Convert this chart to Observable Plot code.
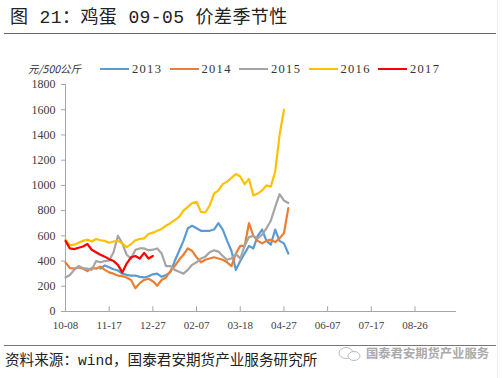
<!DOCTYPE html>
<html><head><meta charset="utf-8">
<script src="https://cdn.jsdelivr.net/npm/d3@7"></script>
<script src="https://cdn.jsdelivr.net/npm/@observablehq/plot@0.6"></script>
<style>
html,body{margin:0;padding:0;background:#fff;}
#wrap{position:relative;width:502px;height:378px;overflow:hidden;background:#fff;}
.abs{position:absolute;white-space:nowrap;}
#title{left:10px;top:8px;font-family:"Liberation Mono","Noto Sans CJK SC";font-size:18px;line-height:20px;letter-spacing:0.4px;color:#222;}
#unit{left:28px;top:62px;font-family:"Noto Sans CJK SC";font-size:10.5px;line-height:13px;color:#333;font-style:italic;}
.leg{top:62px;height:14px;display:flex;align-items:center;font-family:"Liberation Serif";font-size:12.5px;letter-spacing:1.3px;color:#333;}
.leg span.sw{display:inline-block;width:29px;height:2.5px;margin-right:3px;}
#foot{left:5px;top:352px;font-family:"Liberation Mono","Noto Sans CJK SC";font-size:14.6px;line-height:18px;color:#222;}
#wm{left:366px;top:346px;font-family:"Noto Sans CJK SC";font-size:12.3px;line-height:15px;color:#aaa;font-weight:bold;}
#chart{left:0;top:40px;}
#chart svg text{font-family:"Liberation Serif";}
</style></head>
<body><div id="wrap">
<div id="title" class="abs">图 21：鸡蛋 09-05 价差季节性</div>
<div class="abs" style="left:4px;top:33px;width:492px;height:1px;background:#666;"></div>
<div class="abs" style="left:497px;top:0;width:1px;height:378px;background:#eee;"></div>
<div id="unit" class="abs">元/500公斤</div>
<div id="legend"></div>
<div id="chart" class="abs"></div>
<div class="abs" style="left:4px;top:345px;width:492px;height:1px;background:#777;"></div>
<div id="foot" class="abs">资料来源：wind，国泰君安期货产业服务研究所</div>
<svg class="abs" style="left:337px;top:346px" width="26" height="16"><ellipse cx="9" cy="7" rx="7" ry="5.5" fill="none" stroke="#bbb" stroke-width="1"/><ellipse cx="17" cy="10" rx="6" ry="4.5" fill="#fff" stroke="#bbb" stroke-width="1"/></svg>
<div id="wm" class="abs">国泰君安期货产业服务</div>
</div>
<script>
// x-axis tick labels and their positions (trading-day index)
const tickLabels = ["10-08","11-17","12-27","02-07","03-18","04-27","06-07","07-17","08-26"];
const tickPos = [0,40,80,120,160,200,240,280,320];
const yTicks = [0,200,400,600,800,1000,1200,1400,1600,1800];

// series names and colours
const seriesNames = ["2013","2014","2015","2016","2017"];
const seriesColors = ["#5B9BD5","#ED7D31","#A5A5A5","#FFC000","#FF0000"];
const seriesStart = [32,0,0,0,0];
const step = 4;

// values (元/500公斤), every 4 trading days
const v2013 = [340,365,350,335,325,300,290,285,285,275,270,280,295,300,275,290,310,400,480,560,660,680,660,640,640,640,650,700,650,560,480,330,400,460,520,500,600,650,560,530,650,560,540,460];
const v2014 = [390,345,340,350,340,320,345,340,355,330,310,300,285,280,270,250,185,225,250,260,240,205,250,270,320,360,410,450,500,480,430,390,410,420,430,420,410,390,360,460,520,520,700,600,560,540,560,570,550,580,620,820];
const v2015 = [270,290,330,360,345,340,330,400,390,400,405,470,600,540,450,420,490,500,500,485,490,500,460,360,360,330,315,300,330,370,390,420,435,470,485,475,440,410,420,455,420,520,590,600,580,610,660,720,830,930,880,860];
const v2016 = [570,525,530,545,560,570,555,575,565,560,545,555,560,540,510,535,565,575,580,615,625,640,655,680,700,725,750,800,830,860,870,790,785,840,935,960,1010,1030,1060,1090,1070,1010,1050,920,935,960,1000,990,1110,1400,1600];
const v2017 = [560,500,495,505,515,535,490,470,450,435,415,400,370,310,380,430,440,420,465,420,440];
const seriesValues = [v2013,v2014,v2015,v2016,v2017];

const data = seriesValues.map((vals, s) => vals.map((v, i) => ({x: seriesStart[s] + i*step, y: v, name: seriesNames[s]})));

// legend
const legend = document.getElementById("legend");
seriesNames.forEach((n, i) => {
  const d = document.createElement("div");
  d.className = "abs leg";
  d.style.left = (100 + i*69.5) + "px";
  d.innerHTML = `<span class="sw" style="background:${seriesColors[i]}"></span>${n}`;
  legend.appendChild(d);
});

const axisColor = "#A6A6A6";
const chart = Plot.plot({
  width: 502, height: 300,
  marginLeft: 65, marginRight: 46, marginTop: 44, marginBottom: 29,
  x: {domain: [0, 358]},
  y: {domain: [0, 1800]},
  style: {fontFamily: "Liberation Serif", background: "transparent", overflow: "visible"},
  marks: [
    Plot.axisY({ticks: yTicks, tickSize: 4, tickPadding: 6, label: null, stroke: axisColor, fill: "#404040",
      fontSize: 12, tickFormat: d => String(d)}),
    Plot.axisX({ticks: tickPos, tickSize: 0, tickPadding: 10, label: null, fill: "#404040",
      tickFormat: (d) => tickLabels[tickPos.indexOf(d)], fontFamily: "Liberation Mono", fontSize: 11}),
    Plot.ruleX(tickPos, {y1: 0, y2: 38, stroke: axisColor}),
    Plot.ruleX([0], {y1: 0, y2: 1800, stroke: axisColor}),
    Plot.ruleY([0], {x1: 0, x2: 358, stroke: axisColor}),
    ...data.map((d, s) => Plot.line(d, {x: "x", y: "y", stroke: seriesColors[s], strokeWidth: 2.2, strokeLinejoin: "round"}))
  ]
});
document.getElementById("chart").appendChild(chart);
</script>
</body></html>
